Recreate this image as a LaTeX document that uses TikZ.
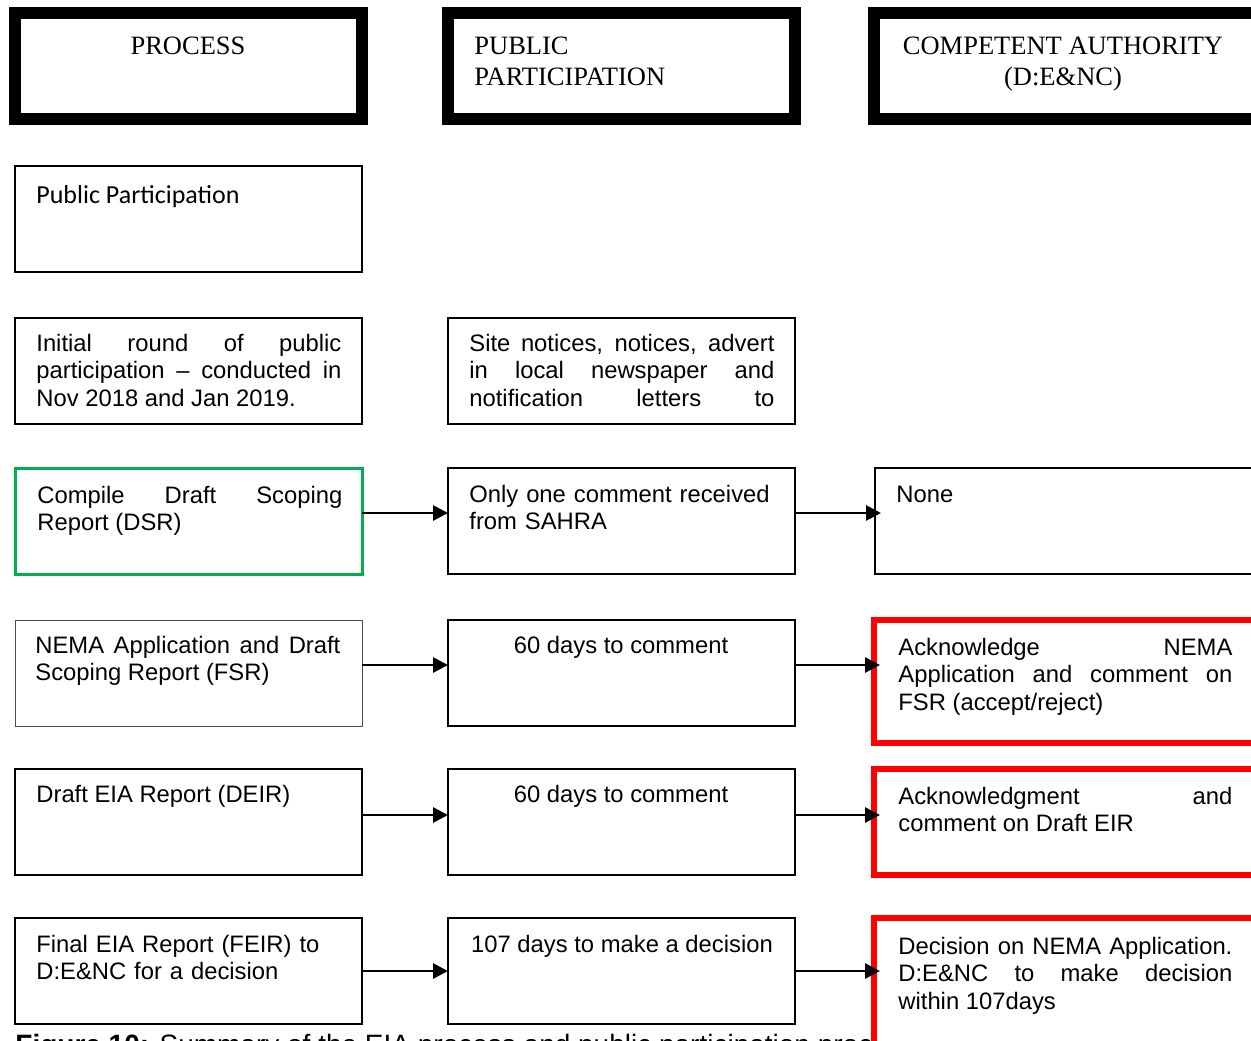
\documentclass[tikz,border=0pt]{standalone}
\usepackage{fontspec}
\setmainfont{Liberation Sans}
\newfontfamily\hdrfont{Liberation Serif}
\newfontfamily\calfont{Carlito}
\usepackage{tikz}
\usetikzlibrary{positioning,arrows.meta}
\usepackage{xcolor}
\definecolor{wdgreen}{RGB}{0,176,80}

\begin{document}
\begin{tikzpicture}[x=0.5pt,y=-0.5pt,
  hdr/.style={draw,line width=6pt,anchor=north west,inner sep=0pt,outer sep=0pt,minimum width=173.5pt,minimum height=53pt},
  cell/.style={draw,line width=0.75pt,fill=white,anchor=north west,inner sep=0pt,outer sep=0pt,minimum width=173.5pt,minimum height=53pt},
  cawide/.style={cell,minimum width=195pt},
  okcell/.style={cell,draw=wdgreen,line width=1.5pt},
  cacell/.style={cawide,draw=red,line width=3pt},
  txt/.style={anchor=base west,inner sep=0pt,text width=152.5pt,align=justify,font=\fontsize{11.9}{13.75}\selectfont},
  catxt/.style={txt,text width=167pt},
  ctxt/.style={anchor=base,inner sep=0pt,font=\fontsize{11.9}{13.75}\selectfont},
  hdrtxt/.style={anchor=base,inner sep=0pt,align=center,font=\hdrfont\fontsize{13.25}{15.5}\selectfont},
  flow/.style={-{Triangle[length=7.5pt,width=7.5pt]},line width=1.4pt}]
\useasboundingbox (0,0) rectangle (1251,1040);
\clip (0,0) rectangle (1251,1040);

% column heads
\node[hdr] (hproc) at (15,13) {};
\node[hdr] (hpub) at (448,13) {};
\node[hdr,minimum width=194pt] (hca) at (874,13) {};
\node[hdrtxt] (hprocT) at (188,54) {PROCESS};
\node[hdrtxt,anchor=base west,align=left] (hpubT) at (474,85) {PUBLIC\\PARTICIPATION};
\node[hdrtxt] (hcaT) at (1063,85) {COMPETENT AUTHORITY\\(D:E\&NC)};

% process steps
\node[cell] (pp) at (15,166) {};
\node[txt,font=\calfont\fontsize{13}{15}\selectfont] (ppT) at (36,203) {Public Participation};

\node[cell] (init) at (15,318) {};
\node[cell] (notices) at (448,318) {};
\node[txt] (initT) at (36,351) {Initial round of public\linebreak participation – conducted in\linebreak Nov 2018 and Jan 2019.};
\node[txt] (noticesT) at (469,351) {Site notices, notices, advert\linebreak in local newspaper and\linebreak notification\hspace{\fill}letters\hspace{\fill}to};

\node[okcell] (dsr) at (15,468) {};
\node[cell] (sahra) at (448,468) {};
\node[cawide] (none) at (875,468) {};
\node[txt] (dsrT) at (37,503) {Compile Draft Scoping\linebreak Report (DSR)};
\node[txt,align=left] (sahraT) at (469,502) {Only one comment received\\from SAHRA};
\node[catxt] (noneT) at (896,502) {None};
\draw[flow] (dsr.east |- 0,513) -- (sahra.west |- 0,513);
\draw[flow,shorten >=-3pt] (sahra.east |- 0,513) -- (none.west |- 0,513);

\node[cell,draw=black!70,line width=0.5pt] (fsr) at (15,620) {};
\node[cell] (fsrpp) at (448,620) {};
\node[cacell,minimum height=61.5pt] (fsrca) at (874,620) {};
\node[txt] (fsrT) at (35,653) {NEMA Application and Draft\linebreak Scoping Report (FSR)};
\node[ctxt] (fsrppT) at (621,653) {60 days to comment};
\node[catxt] (fsrcaT) at (898,655) {Acknowledge\hspace{\fill}NEMA\linebreak Application and comment on\linebreak FSR (accept/reject)};
\draw[flow] (fsr.east |- 0,665) -- (fsrpp.west |- 0,665);
\draw[flow,shorten >=-3pt] (fsrpp.east |- 0,665) -- (fsrca.west |- 0,665);

\node[cell] (deir) at (15,769) {};
\node[cell] (deirpp) at (448,769) {};
\node[cacell] (deirca) at (874,769) {};
\node[txt] (deirT) at (36,802) {Draft EIA Report (DEIR)};
\node[ctxt] (deirppT) at (621,802) {60 days to comment};
\node[catxt] (deircaT) at (898,804) {Acknowledgment\hspace{\fill}and\linebreak comment on Draft EIR};
\draw[flow] (deir.east |- 0,815) -- (deirpp.west |- 0,815);
\draw[flow,shorten >=-3pt] (deirpp.east |- 0,815) -- (deirca.west |- 0,815);

\node[anchor=base west,inner sep=0pt,font=\fontsize{14}{16}\selectfont] (cap) at (15,1054) {\textbf{Figure 10:} Summary of the EIA process and public participation process};

\node[cell] (feir) at (15,918) {};
\node[cell] (feirpp) at (448,918) {};
\node[cacell,minimum height=80pt] (feirca) at (874,918) {};
\node[txt,align=left] (feirT) at (36,952) {Final EIA Report (FEIR) to\\D:E\&NC for a decision};
\node[ctxt] (feirppT) at (622,952) {107 days to make a decision};
\node[catxt] (feircaT) at (898,954) {Decision on NEMA Application.\linebreak D:E\&NC to make decision\linebreak within 107days};
\draw[flow] (feir.east |- 0,971) -- (feirpp.west |- 0,971);
\draw[flow,shorten >=-3pt] (feirpp.east |- 0,971) -- (feirca.west |- 0,971);
\end{tikzpicture}
\end{document}
